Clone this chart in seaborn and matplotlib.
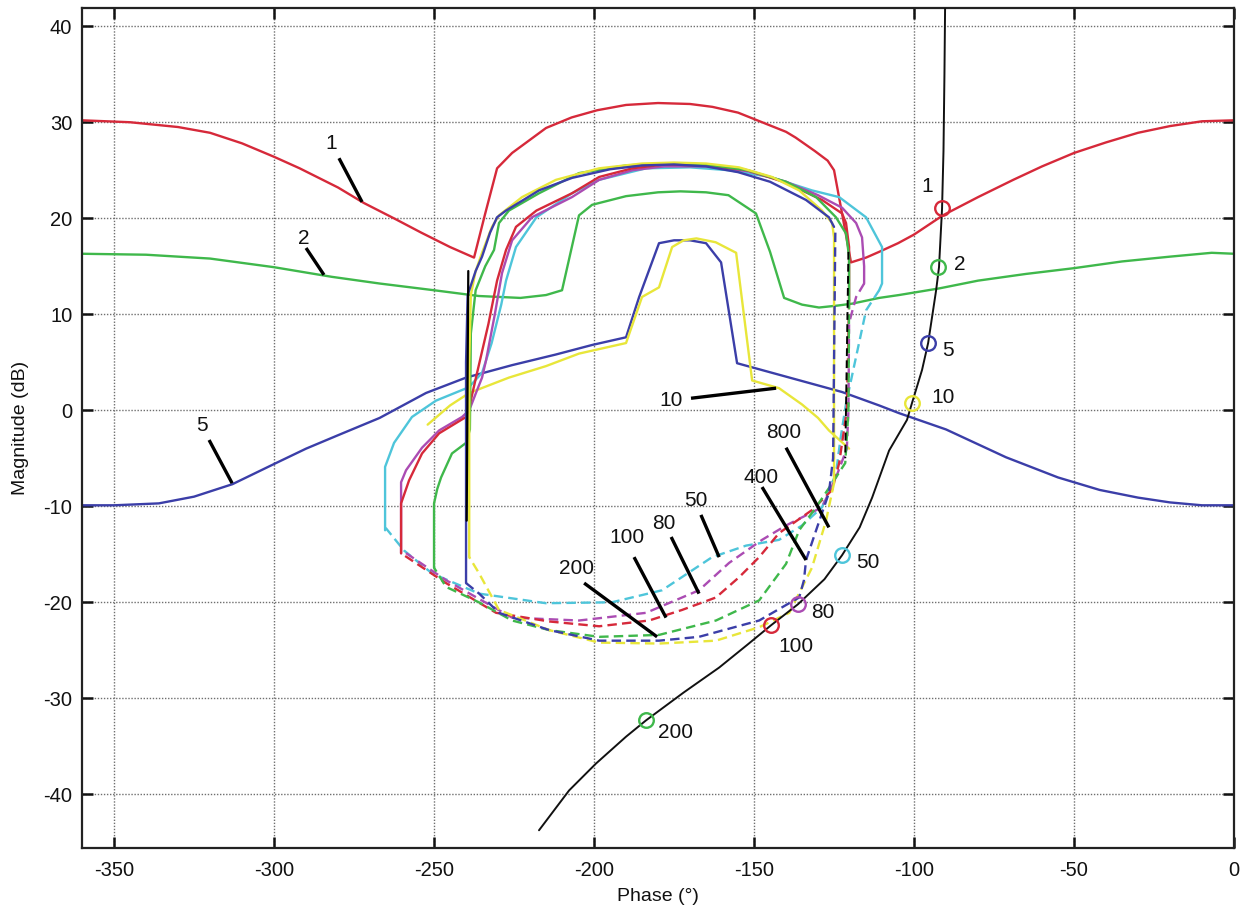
import numpy as np
import matplotlib
matplotlib.use("Agg")
import matplotlib.pyplot as plt
import seaborn as sns

# ---------------- data (phase in degrees, magnitude in dB) ----------------
# open QFT bounds
b1_phase = [-360, -345, -330, -320, -310, -300, -292, -280, -272, -262, -254, -245, -237.5,
            -234, -230.3, -225.6, -220.3, -215, -207, -199, -190, -180, -170, -163, -155,
            -147.5, -140, -137, -131, -127, -125, -122.5, -119.7, -115, -110.9, -105, -100,
            -91, -80, -69, -60, -50, -40, -30, -20, -10, 0]
b1_mag = [30.2, 30.0, 29.5, 28.9, 27.8, 26.4, 25.2, 23.2, 21.6, 19.9, 18.5, 17.0, 15.9,
          20.5, 25.2, 26.8, 28.1, 29.4, 30.5, 31.25, 31.8, 32.0, 31.9, 31.6, 31.0,
          30.0, 29.0, 28.4, 27.0, 26.0, 25.0, 20.5, 15.4, 15.9, 16.5, 17.4, 18.3,
          20.3, 22.2, 24.0, 25.4, 26.8, 27.9, 28.9, 29.6, 30.1, 30.2]

b2_phase = [-360, -340, -320, -300, -282, -267, -250, -236, -223, -215, -210, -204.7, -200.6,
            -190, -180, -173, -165, -158, -149.4, -145, -140.6, -135, -129.7, -124, -119.4,
            -110.9, -104.7, -92, -80, -65, -50, -35, -20, -7, 0]
b2_mag = [16.3, 16.2, 15.8, 14.9, 13.9, 13.2, 12.5, 11.9, 11.7, 12.0, 12.5, 20.3, 21.4,
          22.3, 22.7, 22.8, 22.7, 22.4, 20.5, 16.5, 11.7, 11.0, 10.7, 10.9, 11.1,
          11.7, 12.0, 12.7, 13.5, 14.2, 14.8, 15.5, 16.0, 16.4, 16.3]

b5_phase = [-360, -350, -336, -325, -313, -300, -290, -280, -267, -252.5, -240, -225.6, -212,
            -200.6, -190, -185.9, -179.7, -175, -170, -165, -160.3, -155.3, -140, -122.5,
            -110.9, -104.7, -90, -71.25, -55, -42, -30, -20, -10, 0]
b5_mag = [-9.9, -9.9, -9.7, -9.0, -7.7, -5.6, -4.0, -2.6, -0.8, 1.8, 3.4, 4.7, 5.8,
          6.8, 7.6, 11.8, 17.4, 17.7, 17.7, 17.4, 15.4, 4.9, 3.5, 1.9,
          0.5, -0.3, -2.0, -4.9, -7.0, -8.3, -9.1, -9.6, -9.9, -9.9]

b10_phase = [-252, -245, -239, -226.6, -215, -204.7, -190, -185, -179.7, -175.6, -172, -168,
             -162, -155.6, -150.6, -142.2, -135, -130, -126.6, -120.3]
b10_mag = [-1.5, 0.5, 1.8, 3.4, 4.6, 5.9, 7.0, 11.8, 12.8, 17.0, 17.7, 17.9,
           17.5, 16.4, 3.1, 2.3, 0.6, -0.8, -2.1, -4.0]

# closed (high-frequency) bounds: solid upper part + dashed lower part
b800_solid_phase = [-239, -239, -238.5, -237, -235, -231.9, -229.7, -222.5, -211.9, -198.4, -185,
                    -175, -165, -154.7, -144.4, -135.9, -128.75, -125.6, -125, -125]
b800_solid_mag = [-15.3, 5, 12, 14.5, 16.4, 19.1, 20.3, 22.2, 24.0, 25.2, 25.7,
                  25.8, 25.7, 25.3, 24.3, 22.9, 20.8, 19.5, 18, -7.6]
b800_dash_phase = [-125, -125.6, -127.5, -131.9, -139, -148.4, -161.9, -179.7, -198.4, -214,
                   -229.7, -235.9, -239]
b800_dash_mag = [-7.6, -8.5, -11.5, -16.4, -21.1, -22.6, -24.0, -24.3, -24.2, -22.9,
                 -20.8, -17.0, -15.3]

b400_solid_phase = [-240, -240, -239.5, -237, -235, -232.5, -230.3, -227.5, -217.2, -206.9, -195,
                    -185, -175, -165, -155, -145, -133.75, -126.6, -125]
b400_solid_mag = [-18.0, 5, 12, 14.5, 16.0, 18.5, 20.1, 20.8, 22.9, 24.2, 25.1,
                  25.5, 25.6, 25.4, 24.8, 23.8, 21.9, 20.1, 19.1]
b400_dash_phase = [-124.6, -125.3, -126.6, -130.6, -133.75, -134.4, -135.9, -148.4, -167.2,
                   -179.7, -198.4, -214, -229.7, -235.9, -240]
b400_dash_mag = [18.5, -5.0, -8.6, -12.5, -15.6, -17.7, -19.5, -21.9, -23.6,
                 -24.0, -24.0, -22.9, -21.1, -19.1, -18.0]

b200_solid_phase = [-250, -250, -249, -247.8, -244.4, -240, -238.8, -238.5, -237, -234, -231.25,
                    -229.7, -226.6, -217.2, -204.7, -190, -178, -165, -152, -140, -130.6,
                    -124.4, -121.25, -120.3, -120.3]
b200_solid_mag = [-16.4, -9.7, -8.2, -7.0, -4.5, -3.4, -2.0, 8.0, 12.5, 15.0, 16.7,
                  19.5, 20.8, 22.6, 24.7, 25.5, 25.7, 25.6, 25.0, 23.8, 22.2,
                  20.1, 18.4, 16.0, 11.5]
b200_dash_phase = [-120.3, -120.5, -121.5, -125.6, -130.6, -135.9, -140, -148.4, -161.9,
                   -179.7, -198.4, -214, -225.6, -236, -246.25, -250]
b200_dash_mag = [11.5, 0.0, -5.5, -7.6, -10.1, -12.5, -16.0, -19.8, -21.9,
                 -23.4, -23.6, -22.9, -21.9, -20.0, -18.4, -16.4]

b100_solid_phase = [-260.3, -260.3, -257.8, -253.75, -248.4, -240, -239, -236.9, -233, -230.3,
                    -227.5, -224.4, -218, -206.9, -198.4, -188, -178, -165, -152, -140,
                    -128.75, -122.5, -121.25, -120.3, -120.3]
b100_solid_mag = [-14.9, -9.7, -7.3, -4.5, -2.4, -0.7, 0.3, 3.4, 9.0, 13.5,
                  16.7, 19.1, 20.8, 22.6, 24.3, 25.2, 25.6, 25.5, 25.0, 23.7,
                  21.9, 20.5, 19.5, 17.0, 11.5]
b100_dash_phase = [-120.3, -121, -123.4, -125.6, -131.9, -142.2, -148.4, -154.7, -161.9, -172.5,
                   -182.8, -198.4, -214, -230.6, -246.25, -260.3]
b100_dash_mag = [11.5, 0.0, -5.5, -8.3, -10.4, -12.8, -15.3, -17.4, -19.5, -20.8,
                 -21.9, -22.5, -22.0, -21.1, -18.0, -14.9]

b80_solid_phase = [-260.3, -260.3, -258.75, -253.75, -248.4, -241.25, -239, -236.9, -235, -233.75,
                   -231, -228.75, -225.6, -219.4, -206.9, -198.4, -188, -178, -165, -152, -140,
                   -130, -122.5, -118.1, -116.25, -115.6, -115.6]
b80_solid_mag = [-14.9, -7.5, -6.25, -3.9, -2.1, -0.7, 0.0, 1.8, 3.4, 5.2,
                 10.0, 14.3, 17.7, 20.1, 22.2, 24.0, 25.0, 25.4, 25.4, 24.9, 23.8,
                 22.4, 21.1, 19.5, 18.0, 15.0, 13.2]
b80_dash_phase = [-115.6, -118.1, -120.3, -120.5, -121, -124.4, -128.75, -140, -147.5, -157.8,
                  -167.2, -183.75, -204.7, -225.6, -246.25, -260]
b80_dash_mag = [13.2, 11.8, 9.1, 0.0, -4.0, -7.0, -10.1, -12.0, -13.5, -15.9,
                -18.75, -21.1, -21.9, -21.6, -17.7, -14.6]

b50_solid_phase = [-265.3, -265.3, -262.5, -256.9, -249.4, -239.1, -235, -232, -229, -227.5,
                   -224.4, -218, -206.9, -198.4, -183.75, -170, -157.8, -145, -131.9, -123.4,
                   -115, -110, -110, -110.9]
b50_solid_mag = [-12.5, -5.9, -3.4, -0.7, 1.0, 2.4, 3.9, 7.0, 11.0, 13.5,
                 17.0, 20.1, 22.6, 24.0, 25.2, 25.3, 25.0, 24.3, 22.9, 22.2,
                 20.1, 17.0, 13.2, 12.5]
b50_dash_phase = [-110.9, -115, -121.25, -123, -124.4, -128.75, -135, -142.2, -152.5, -163.1,
                  -178.75, -194.4, -215, -235.9, -250.6, -259.4, -265, -265.3]
b50_dash_mag = [12.5, 10.4, 0.7, -3.0, -6.6, -10.1, -12.0, -13.5, -14.1, -15.3,
                -18.75, -20.0, -20.1, -19.1, -17.0, -14.6, -12.3, -12.5]

# universal high-frequency contour pieces (black)
u_left_phase = [-239.3, -239.8]
u_left_mag = [14.5, -11.5]
u_right_phase = [-120.5, -121.5]
u_right_mag = [16.5, -5.0]

# nominal open loop L0
l0_phase = [-217.2, -207.8, -199.4, -190, -183.75, -172, -160.9, -152, -144.7, -136.25, -128,
            -122.5, -117, -113.1, -107.8, -102.2, -100.6, -97.5, -95.6, -93.1, -92.2, -91.25,
            -90.8, -90.5, -90.3]
l0_mag = [-43.75, -39.6, -36.8, -34.0, -32.3, -29.4, -26.8, -24.4, -22.4, -20.2, -17.6,
          -15.1, -12.2, -9.1, -4.2, -1.0, 0.8, 4.2, 7.0, 12.5, 14.9, 21.0,
          27.0, 35.0, 41.9]

# frequency markers on L0
mk_freq = ["1", "2", "5", "10", "50", "80", "100", "200"]
mk_phase = [-91.4, -92.4, -95.6, -100.6, -122.5, -136.25, -144.7, -183.75]
mk_mag = [21.1, 14.9, 7.0, 0.8, -15.1, -20.2, -22.4, -32.3]
mk_label_phase = [-95.9, -85.8, -89.5, -90.8, -114.5, -128.6, -136.9, -174.4]
mk_label_mag = [23.3, 15.2, 6.2, 1.3, -15.9, -21.1, -24.6, -33.6]

# bound annotations (text and leader lines)
ann_text = ["1", "2", "5", "10", "800", "400", "50", "80", "100", "200"]
ann_text_phase = [-282.0, -290.8, -322.5, -175.9, -140.6, -147.8, -168.1, -178.1, -189.7, -205.6]
ann_text_mag = [27.8, 17.9, -1.6, 1.0, -2.3, -7.0, -9.4, -11.8, -13.3, -16.5]
ann_line_phase0 = [-279.7, -290.0, -320.3, -169.7, -140.0, -147.5, -166.6, -175.9, -187.5, -203.1]
ann_line_mag0 = [26.25, 16.9, -3.1, 1.25, -3.9, -8.0, -10.9, -13.2, -15.3, -18.0]
ann_line_phase1 = [-272.5, -284.4, -313.1, -143.1, -126.6, -133.75, -160.9, -167.2, -177.5, -180.3]
ann_line_mag1 = [21.7, 14.1, -7.6, 2.3, -12.2, -15.6, -15.3, -19.1, -21.6, -23.6]

x_ticks = [-350, -300, -250, -200, -150, -100, -50, 0]
y_ticks = [-40, -30, -20, -10, 0, 10, 20, 30, 40]

# ---------------- style ----------------
RED = "#d6293a"
GREEN = "#3fb84b"
BLUE = "#3b3ea8"
YELLOW = "#e8e63a"
CYAN = "#4ec5da"
MAGENTA = "#ab4cb3"

sns.set_theme(style="ticks")
plt.rcParams['font.family'] = ['Liberation Sans', 'DejaVu Sans']
plt.rcParams['axes.unicode_minus'] = False

fig = plt.figure(figsize=(12.43, 9.07), dpi=100)
ax = fig.add_axes([0.066, 0.065, 0.9268, 0.9262])


def draw(px, py, color, lw=1.7, ls="-", z=2):
    sns.lineplot(x=np.asarray(px, float), y=np.asarray(py, float), sort=False, estimator=None,
                 color=color, linewidth=lw, linestyle=ls, ax=ax, zorder=z)


DASH = (0, (4.0, 2.2))

# open bounds
draw(b1_phase, b1_mag, RED)
draw(b2_phase, b2_mag, GREEN)
draw(b5_phase, b5_mag, BLUE)
draw(b10_phase, b10_mag, YELLOW)

# closed bounds
closed = [
    (b50_solid_phase, b50_solid_mag, b50_dash_phase, b50_dash_mag, CYAN),
    (b80_solid_phase, b80_solid_mag, b80_dash_phase, b80_dash_mag, MAGENTA),
    (b100_solid_phase, b100_solid_mag, b100_dash_phase, b100_dash_mag, RED),
    (b200_solid_phase, b200_solid_mag, b200_dash_phase, b200_dash_mag, GREEN),
    (b800_solid_phase, b800_solid_mag, b800_dash_phase, b800_dash_mag, YELLOW),
    (b400_solid_phase, b400_solid_mag, b400_dash_phase, b400_dash_mag, BLUE),
]
for sp, sm, dp, dm, c in closed:
    draw(sp, sm, c)
    draw(dp, dm, c, ls=DASH)

draw(u_left_phase, u_left_mag, "black", lw=1.6, z=3)
draw(u_right_phase, u_right_mag, "black", lw=1.4, ls=DASH, z=3)

# nominal loop
draw(l0_phase, l0_mag, "#111111", lw=1.4, z=4)
mk_colors = [RED, GREEN, BLUE, YELLOW, CYAN, MAGENTA, RED, GREEN]
for p, m, c in zip(mk_phase, mk_mag, mk_colors):
    ax.plot(p, m, marker="o", ms=10.5, mfc="none", mec=c, mew=1.7, zorder=5)
for t, p, m in zip(mk_freq, mk_label_phase, mk_label_mag):
    ax.text(p, m, t, fontsize=15, ha="center", va="center", color="#111111", zorder=6)

# annotations
for t, tp, tm, p0, m0, p1, m1 in zip(ann_text, ann_text_phase, ann_text_mag,
                                     ann_line_phase0, ann_line_mag0,
                                     ann_line_phase1, ann_line_mag1):
    ax.plot([p0, p1], [m0, m1], color="black", lw=2.4, solid_capstyle="butt", zorder=6)
    ax.text(tp, tm, t, fontsize=15, ha="center", va="center", color="#111111", zorder=6)

# axes
ax.set_xlim(-360, 0)
ax.set_ylim(-45.6, 41.9)
ax.set_xticks(x_ticks)
ax.set_yticks(y_ticks)
ax.set_xticklabels([str(v) for v in x_ticks])
ax.set_yticklabels([str(v) for v in y_ticks])
ax.grid(True, color="#6f6f6f", linestyle=(0, (1, 1.2)), linewidth=1.0)
ax.tick_params(direction="in", length=8, width=1.8, top=True, right=True,
               labelsize=14.5, colors="#111111")
ax.tick_params(axis="x", pad=9)
ax.tick_params(axis="y", pad=7)
for s in ax.spines.values():
    s.set_linewidth(1.6)
    s.set_color("#222222")
ax.set_xlabel("Phase (°)", fontsize=14, labelpad=6, color="#111111")
ax.set_ylabel("Magnitude (dB)", fontsize=14, labelpad=10, color="#111111")
if ax.get_legend() is not None:
    ax.get_legend().remove()

fig.savefig("out.png", dpi=100)
